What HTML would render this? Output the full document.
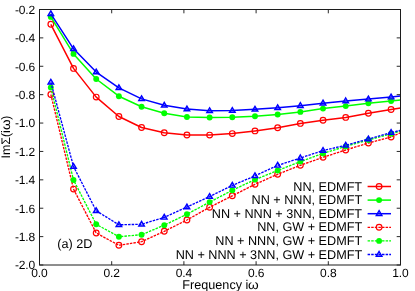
<!DOCTYPE html>
<html><head><meta charset="utf-8"><title>chart</title>
<style>
html,body{margin:0;padding:0;background:#fff;}
body{width:415px;height:291px;position:relative;overflow:hidden;font-family:"Liberation Sans",sans-serif;color:#000;}
.t{position:absolute;text-rendering:geometricPrecision;white-space:nowrap;font-family:"Liberation Sans",sans-serif;color:#000;}
#txt{position:absolute;left:0;top:0;width:415px;height:291px;will-change:transform;}
</style></head><body>
<svg width="415" height="291" viewBox="0 0 415 291" style="position:absolute;left:0;top:0">
<rect x="0" y="0" width="415" height="291" fill="#ffffff"/>
<path d="M39.5 9.50 h3.8 M400.5 9.50 h-3.8" stroke="#111" stroke-width="0.9"/>
<path d="M39.5 37.89 h3.8 M400.5 37.89 h-3.8" stroke="#111" stroke-width="0.9"/>
<path d="M39.5 66.28 h3.8 M400.5 66.28 h-3.8" stroke="#111" stroke-width="0.9"/>
<path d="M39.5 94.67 h3.8 M400.5 94.67 h-3.8" stroke="#111" stroke-width="0.9"/>
<path d="M39.5 123.06 h3.8 M400.5 123.06 h-3.8" stroke="#111" stroke-width="0.9"/>
<path d="M39.5 151.44 h3.8 M400.5 151.44 h-3.8" stroke="#111" stroke-width="0.9"/>
<path d="M39.5 179.83 h3.8 M400.5 179.83 h-3.8" stroke="#111" stroke-width="0.9"/>
<path d="M39.5 208.22 h3.8 M400.5 208.22 h-3.8" stroke="#111" stroke-width="0.9"/>
<path d="M39.5 236.61 h3.8 M400.5 236.61 h-3.8" stroke="#111" stroke-width="0.9"/>
<path d="M39.5 265.00 h3.8 M400.5 265.00 h-3.8" stroke="#111" stroke-width="0.9"/>
<path d="M39.50 265.0 v-3.8 M39.50 9.5 v3.8" stroke="#111" stroke-width="0.9"/>
<path d="M111.70 265.0 v-3.8 M111.70 9.5 v3.8" stroke="#111" stroke-width="0.9"/>
<path d="M183.90 265.0 v-3.8 M183.90 9.5 v3.8" stroke="#111" stroke-width="0.9"/>
<path d="M256.10 265.0 v-3.8 M256.10 9.5 v3.8" stroke="#111" stroke-width="0.9"/>
<path d="M328.30 265.0 v-3.8 M328.30 9.5 v3.8" stroke="#111" stroke-width="0.9"/>
<path d="M400.50 265.0 v-3.8 M400.50 9.5 v3.8" stroke="#111" stroke-width="0.9"/>
<path d="M50.84 24.30 L73.52 68.40 L96.21 97.10 L118.89 116.50 L141.57 127.50 L164.25 132.80 L186.93 135.00 L209.62 135.10 L232.30 133.60 L254.98 130.90 L277.66 127.70 L300.35 123.40 L323.03 120.30 L345.71 117.40 L368.39 113.30 L391.08 109.50 L400.50 108.00" fill="none" stroke="#ff0000" stroke-width="1.5" stroke-linejoin="round"/>
<circle cx="50.84" cy="24.30" r="2.85" fill="none" stroke="#ff0000" stroke-width="1.2"/>
<circle cx="73.52" cy="68.40" r="2.85" fill="none" stroke="#ff0000" stroke-width="1.2"/>
<circle cx="96.21" cy="97.10" r="2.85" fill="none" stroke="#ff0000" stroke-width="1.2"/>
<circle cx="118.89" cy="116.50" r="2.85" fill="none" stroke="#ff0000" stroke-width="1.2"/>
<circle cx="141.57" cy="127.50" r="2.85" fill="none" stroke="#ff0000" stroke-width="1.2"/>
<circle cx="164.25" cy="132.80" r="2.85" fill="none" stroke="#ff0000" stroke-width="1.2"/>
<circle cx="186.93" cy="135.00" r="2.85" fill="none" stroke="#ff0000" stroke-width="1.2"/>
<circle cx="209.62" cy="135.10" r="2.85" fill="none" stroke="#ff0000" stroke-width="1.2"/>
<circle cx="232.30" cy="133.60" r="2.85" fill="none" stroke="#ff0000" stroke-width="1.2"/>
<circle cx="254.98" cy="130.90" r="2.85" fill="none" stroke="#ff0000" stroke-width="1.2"/>
<circle cx="277.66" cy="127.70" r="2.85" fill="none" stroke="#ff0000" stroke-width="1.2"/>
<circle cx="300.35" cy="123.40" r="2.85" fill="none" stroke="#ff0000" stroke-width="1.2"/>
<circle cx="323.03" cy="120.30" r="2.85" fill="none" stroke="#ff0000" stroke-width="1.2"/>
<circle cx="345.71" cy="117.40" r="2.85" fill="none" stroke="#ff0000" stroke-width="1.2"/>
<circle cx="368.39" cy="113.30" r="2.85" fill="none" stroke="#ff0000" stroke-width="1.2"/>
<circle cx="391.08" cy="109.50" r="2.85" fill="none" stroke="#ff0000" stroke-width="1.2"/>
<path d="M50.84 16.90 L73.52 53.90 L96.21 79.00 L118.89 96.20 L141.57 106.80 L164.25 113.20 L186.93 117.00 L209.62 117.50 L232.30 117.25 L254.98 116.30 L277.66 114.50 L300.35 111.90 L323.03 108.60 L345.71 106.10 L368.39 103.25 L391.08 101.00 L400.50 100.00" fill="none" stroke="#00ff00" stroke-width="1.5" stroke-linejoin="round"/>
<circle cx="50.84" cy="16.90" r="2.95" fill="#00ff00"/>
<circle cx="73.52" cy="53.90" r="2.95" fill="#00ff00"/>
<circle cx="96.21" cy="79.00" r="2.95" fill="#00ff00"/>
<circle cx="118.89" cy="96.20" r="2.95" fill="#00ff00"/>
<circle cx="141.57" cy="106.80" r="2.95" fill="#00ff00"/>
<circle cx="164.25" cy="113.20" r="2.95" fill="#00ff00"/>
<circle cx="186.93" cy="117.00" r="2.95" fill="#00ff00"/>
<circle cx="209.62" cy="117.50" r="2.95" fill="#00ff00"/>
<circle cx="232.30" cy="117.25" r="2.95" fill="#00ff00"/>
<circle cx="254.98" cy="116.30" r="2.95" fill="#00ff00"/>
<circle cx="277.66" cy="114.50" r="2.95" fill="#00ff00"/>
<circle cx="300.35" cy="111.90" r="2.95" fill="#00ff00"/>
<circle cx="323.03" cy="108.60" r="2.95" fill="#00ff00"/>
<circle cx="345.71" cy="106.10" r="2.95" fill="#00ff00"/>
<circle cx="368.39" cy="103.25" r="2.95" fill="#00ff00"/>
<circle cx="391.08" cy="101.00" r="2.95" fill="#00ff00"/>
<path d="M50.84 13.90 L73.52 48.80 L96.21 72.05 L118.89 87.80 L141.57 98.90 L164.25 105.30 L186.93 109.05 L209.62 110.80 L232.30 110.55 L254.98 109.30 L277.66 107.80 L300.35 105.70 L323.03 103.20 L345.71 101.00 L368.39 99.10 L391.08 97.10 L400.50 95.90" fill="none" stroke="#0000ff" stroke-width="1.5" stroke-linejoin="round"/>
<path d="M50.84 10.90 L53.64 15.65 L48.04 15.65 Z" fill="#0000ff" fill-opacity="0.18" stroke="#0000ff" stroke-width="1.4" stroke-linejoin="miter"/>
<path d="M73.52 45.80 L76.32 50.55 L70.72 50.55 Z" fill="#0000ff" fill-opacity="0.18" stroke="#0000ff" stroke-width="1.4" stroke-linejoin="miter"/>
<path d="M96.21 69.05 L99.01 73.80 L93.41 73.80 Z" fill="#0000ff" fill-opacity="0.18" stroke="#0000ff" stroke-width="1.4" stroke-linejoin="miter"/>
<path d="M118.89 84.80 L121.69 89.55 L116.09 89.55 Z" fill="#0000ff" fill-opacity="0.18" stroke="#0000ff" stroke-width="1.4" stroke-linejoin="miter"/>
<path d="M141.57 95.90 L144.37 100.65 L138.77 100.65 Z" fill="#0000ff" fill-opacity="0.18" stroke="#0000ff" stroke-width="1.4" stroke-linejoin="miter"/>
<path d="M164.25 102.30 L167.05 107.05 L161.45 107.05 Z" fill="#0000ff" fill-opacity="0.18" stroke="#0000ff" stroke-width="1.4" stroke-linejoin="miter"/>
<path d="M186.93 106.05 L189.73 110.80 L184.13 110.80 Z" fill="#0000ff" fill-opacity="0.18" stroke="#0000ff" stroke-width="1.4" stroke-linejoin="miter"/>
<path d="M209.62 107.80 L212.42 112.55 L206.82 112.55 Z" fill="#0000ff" fill-opacity="0.18" stroke="#0000ff" stroke-width="1.4" stroke-linejoin="miter"/>
<path d="M232.30 107.55 L235.10 112.30 L229.50 112.30 Z" fill="#0000ff" fill-opacity="0.18" stroke="#0000ff" stroke-width="1.4" stroke-linejoin="miter"/>
<path d="M254.98 106.30 L257.78 111.05 L252.18 111.05 Z" fill="#0000ff" fill-opacity="0.18" stroke="#0000ff" stroke-width="1.4" stroke-linejoin="miter"/>
<path d="M277.66 104.80 L280.46 109.55 L274.86 109.55 Z" fill="#0000ff" fill-opacity="0.18" stroke="#0000ff" stroke-width="1.4" stroke-linejoin="miter"/>
<path d="M300.35 102.70 L303.15 107.45 L297.55 107.45 Z" fill="#0000ff" fill-opacity="0.18" stroke="#0000ff" stroke-width="1.4" stroke-linejoin="miter"/>
<path d="M323.03 100.20 L325.83 104.95 L320.23 104.95 Z" fill="#0000ff" fill-opacity="0.18" stroke="#0000ff" stroke-width="1.4" stroke-linejoin="miter"/>
<path d="M345.71 98.00 L348.51 102.75 L342.91 102.75 Z" fill="#0000ff" fill-opacity="0.18" stroke="#0000ff" stroke-width="1.4" stroke-linejoin="miter"/>
<path d="M368.39 96.10 L371.19 100.85 L365.59 100.85 Z" fill="#0000ff" fill-opacity="0.18" stroke="#0000ff" stroke-width="1.4" stroke-linejoin="miter"/>
<path d="M391.08 94.10 L393.88 98.85 L388.28 98.85 Z" fill="#0000ff" fill-opacity="0.18" stroke="#0000ff" stroke-width="1.4" stroke-linejoin="miter"/>
<path d="M50.84 94.50 L73.52 189.10 L96.21 233.00 L118.89 245.30 L141.57 241.70 L164.25 231.30 L186.93 220.00 L209.62 207.30 L232.30 195.80 L254.98 184.30 L277.66 174.30 L300.35 165.30 L323.03 157.30 L345.71 150.00 L368.39 143.00 L391.08 137.00 L400.50 132.70" fill="none" stroke="#ff0000" stroke-width="1.35" stroke-dasharray="2.5,1.1" stroke-linejoin="round"/>
<circle cx="50.84" cy="94.50" r="2.85" fill="none" stroke="#ff0000" stroke-width="1.2"/>
<circle cx="73.52" cy="189.10" r="2.85" fill="none" stroke="#ff0000" stroke-width="1.2"/>
<circle cx="96.21" cy="233.00" r="2.85" fill="none" stroke="#ff0000" stroke-width="1.2"/>
<circle cx="118.89" cy="245.30" r="2.85" fill="none" stroke="#ff0000" stroke-width="1.2"/>
<circle cx="141.57" cy="241.70" r="2.85" fill="none" stroke="#ff0000" stroke-width="1.2"/>
<circle cx="164.25" cy="231.30" r="2.85" fill="none" stroke="#ff0000" stroke-width="1.2"/>
<circle cx="186.93" cy="220.00" r="2.85" fill="none" stroke="#ff0000" stroke-width="1.2"/>
<circle cx="209.62" cy="207.30" r="2.85" fill="none" stroke="#ff0000" stroke-width="1.2"/>
<circle cx="232.30" cy="195.80" r="2.85" fill="none" stroke="#ff0000" stroke-width="1.2"/>
<circle cx="254.98" cy="184.30" r="2.85" fill="none" stroke="#ff0000" stroke-width="1.2"/>
<circle cx="277.66" cy="174.30" r="2.85" fill="none" stroke="#ff0000" stroke-width="1.2"/>
<circle cx="300.35" cy="165.30" r="2.85" fill="none" stroke="#ff0000" stroke-width="1.2"/>
<circle cx="323.03" cy="157.30" r="2.85" fill="none" stroke="#ff0000" stroke-width="1.2"/>
<circle cx="345.71" cy="150.00" r="2.85" fill="none" stroke="#ff0000" stroke-width="1.2"/>
<circle cx="368.39" cy="143.00" r="2.85" fill="none" stroke="#ff0000" stroke-width="1.2"/>
<circle cx="391.08" cy="137.00" r="2.85" fill="none" stroke="#ff0000" stroke-width="1.2"/>
<path d="M50.84 87.50 L73.52 180.00 L96.21 224.30 L118.89 236.70 L141.57 234.70 L164.25 225.20 L186.93 214.20 L209.62 202.10 L232.30 190.30 L254.98 179.60 L277.66 170.50 L300.35 161.60 L323.03 153.40 L345.71 146.40 L368.39 140.00 L391.08 133.75 L400.50 131.00" fill="none" stroke="#00ff00" stroke-width="1.35" stroke-dasharray="2.5,1.1" stroke-linejoin="round"/>
<circle cx="50.84" cy="87.50" r="2.95" fill="#00ff00"/>
<circle cx="73.52" cy="180.00" r="2.95" fill="#00ff00"/>
<circle cx="96.21" cy="224.30" r="2.95" fill="#00ff00"/>
<circle cx="118.89" cy="236.70" r="2.95" fill="#00ff00"/>
<circle cx="141.57" cy="234.70" r="2.95" fill="#00ff00"/>
<circle cx="164.25" cy="225.20" r="2.95" fill="#00ff00"/>
<circle cx="186.93" cy="214.20" r="2.95" fill="#00ff00"/>
<circle cx="209.62" cy="202.10" r="2.95" fill="#00ff00"/>
<circle cx="232.30" cy="190.30" r="2.95" fill="#00ff00"/>
<circle cx="254.98" cy="179.60" r="2.95" fill="#00ff00"/>
<circle cx="277.66" cy="170.50" r="2.95" fill="#00ff00"/>
<circle cx="300.35" cy="161.60" r="2.95" fill="#00ff00"/>
<circle cx="323.03" cy="153.40" r="2.95" fill="#00ff00"/>
<circle cx="345.71" cy="146.40" r="2.95" fill="#00ff00"/>
<circle cx="368.39" cy="140.00" r="2.95" fill="#00ff00"/>
<circle cx="391.08" cy="133.75" r="2.95" fill="#00ff00"/>
<path d="M50.84 82.30 L73.52 166.55 L96.21 210.80 L118.89 224.80 L141.57 224.30 L164.25 217.40 L186.93 207.05 L209.62 196.55 L232.30 185.40 L254.98 175.90 L277.66 165.40 L300.35 158.00 L323.03 150.55 L345.71 145.30 L368.39 139.05 L391.08 132.55 L400.50 130.30" fill="none" stroke="#0000ff" stroke-width="1.35" stroke-dasharray="2.5,1.1" stroke-linejoin="round"/>
<path d="M50.84 79.30 L53.64 84.05 L48.04 84.05 Z" fill="#0000ff" fill-opacity="0.18" stroke="#0000ff" stroke-width="1.4" stroke-linejoin="miter"/>
<path d="M73.52 163.55 L76.32 168.30 L70.72 168.30 Z" fill="#0000ff" fill-opacity="0.18" stroke="#0000ff" stroke-width="1.4" stroke-linejoin="miter"/>
<path d="M96.21 207.80 L99.01 212.55 L93.41 212.55 Z" fill="#0000ff" fill-opacity="0.18" stroke="#0000ff" stroke-width="1.4" stroke-linejoin="miter"/>
<path d="M118.89 221.80 L121.69 226.55 L116.09 226.55 Z" fill="#0000ff" fill-opacity="0.18" stroke="#0000ff" stroke-width="1.4" stroke-linejoin="miter"/>
<path d="M141.57 221.30 L144.37 226.05 L138.77 226.05 Z" fill="#0000ff" fill-opacity="0.18" stroke="#0000ff" stroke-width="1.4" stroke-linejoin="miter"/>
<path d="M164.25 214.40 L167.05 219.15 L161.45 219.15 Z" fill="#0000ff" fill-opacity="0.18" stroke="#0000ff" stroke-width="1.4" stroke-linejoin="miter"/>
<path d="M186.93 204.05 L189.73 208.80 L184.13 208.80 Z" fill="#0000ff" fill-opacity="0.18" stroke="#0000ff" stroke-width="1.4" stroke-linejoin="miter"/>
<path d="M209.62 193.55 L212.42 198.30 L206.82 198.30 Z" fill="#0000ff" fill-opacity="0.18" stroke="#0000ff" stroke-width="1.4" stroke-linejoin="miter"/>
<path d="M232.30 182.40 L235.10 187.15 L229.50 187.15 Z" fill="#0000ff" fill-opacity="0.18" stroke="#0000ff" stroke-width="1.4" stroke-linejoin="miter"/>
<path d="M254.98 172.90 L257.78 177.65 L252.18 177.65 Z" fill="#0000ff" fill-opacity="0.18" stroke="#0000ff" stroke-width="1.4" stroke-linejoin="miter"/>
<path d="M277.66 162.40 L280.46 167.15 L274.86 167.15 Z" fill="#0000ff" fill-opacity="0.18" stroke="#0000ff" stroke-width="1.4" stroke-linejoin="miter"/>
<path d="M300.35 155.00 L303.15 159.75 L297.55 159.75 Z" fill="#0000ff" fill-opacity="0.18" stroke="#0000ff" stroke-width="1.4" stroke-linejoin="miter"/>
<path d="M323.03 147.55 L325.83 152.30 L320.23 152.30 Z" fill="#0000ff" fill-opacity="0.18" stroke="#0000ff" stroke-width="1.4" stroke-linejoin="miter"/>
<path d="M345.71 142.30 L348.51 147.05 L342.91 147.05 Z" fill="#0000ff" fill-opacity="0.18" stroke="#0000ff" stroke-width="1.4" stroke-linejoin="miter"/>
<path d="M368.39 136.05 L371.19 140.80 L365.59 140.80 Z" fill="#0000ff" fill-opacity="0.18" stroke="#0000ff" stroke-width="1.4" stroke-linejoin="miter"/>
<path d="M391.08 129.55 L393.88 134.30 L388.28 134.30 Z" fill="#0000ff" fill-opacity="0.18" stroke="#0000ff" stroke-width="1.4" stroke-linejoin="miter"/>
<rect x="39.5" y="9.5" width="361.0" height="255.5" fill="none" stroke="#1c1c1c" stroke-width="1"/>
<path d="M367.6 186.5 H391.0" stroke="#ff0000" stroke-width="1.5"/>
<circle cx="379.10" cy="186.50" r="2.85" fill="none" stroke="#ff0000" stroke-width="1.2"/>
<path d="M367.6 200.1 H391.0" stroke="#00ff00" stroke-width="1.5"/>
<circle cx="379.10" cy="200.10" r="2.95" fill="#00ff00"/>
<path d="M367.6 213.7 H391.0" stroke="#0000ff" stroke-width="1.5"/>
<path d="M379.10 210.70 L381.90 215.45 L376.30 215.45 Z" fill="#0000ff" fill-opacity="0.18" stroke="#0000ff" stroke-width="1.4" stroke-linejoin="miter"/>
<path d="M367.6 227.3 H391.0" stroke="#ff0000" stroke-width="1.35" stroke-dasharray="2.5,1.1"/>
<circle cx="379.10" cy="227.30" r="2.85" fill="none" stroke="#ff0000" stroke-width="1.2"/>
<path d="M367.6 240.9 H391.0" stroke="#00ff00" stroke-width="1.35" stroke-dasharray="2.5,1.1"/>
<circle cx="379.10" cy="240.90" r="2.95" fill="#00ff00"/>
<path d="M367.6 254.5 H391.0" stroke="#0000ff" stroke-width="1.35" stroke-dasharray="2.5,1.1"/>
<path d="M379.10 251.50 L381.90 256.25 L376.30 256.25 Z" fill="#0000ff" fill-opacity="0.18" stroke="#0000ff" stroke-width="1.4" stroke-linejoin="miter"/>
</svg>
<div id="txt"><div class="t" style="top:178.57px;font-size:12.65px;line-height:16px;height:16px;right:52.90px;">NN, EDMFT</div>
<div class="t" style="top:192.17px;font-size:12.65px;line-height:16px;height:16px;right:52.90px;">NN + NNN, EDMFT</div>
<div class="t" style="top:205.77px;font-size:12.65px;line-height:16px;height:16px;right:52.90px;">NN + NNN + 3NN, EDMFT</div>
<div class="t" style="top:219.37px;font-size:12.65px;line-height:16px;height:16px;right:52.90px;">NN, GW + EDMFT</div>
<div class="t" style="top:232.97px;font-size:12.65px;line-height:16px;height:16px;right:52.90px;">NN + NNN, GW + EDMFT</div>
<div class="t" style="top:246.57px;font-size:12.65px;line-height:16px;height:16px;right:52.90px;">NN + NNN + 3NN, GW + EDMFT</div>
<div class="t" style="top:1.84px;font-size:12px;line-height:16px;height:16px;right:380.00px;letter-spacing:-0.15px;">-0.2</div>
<div class="t" style="top:30.23px;font-size:12px;line-height:16px;height:16px;right:380.00px;letter-spacing:-0.15px;">-0.4</div>
<div class="t" style="top:58.62px;font-size:12px;line-height:16px;height:16px;right:380.00px;letter-spacing:-0.15px;">-0.6</div>
<div class="t" style="top:87.01px;font-size:12px;line-height:16px;height:16px;right:380.00px;letter-spacing:-0.15px;">-0.8</div>
<div class="t" style="top:115.40px;font-size:12px;line-height:16px;height:16px;right:380.00px;letter-spacing:-0.15px;">-1.0</div>
<div class="t" style="top:143.79px;font-size:12px;line-height:16px;height:16px;right:380.00px;letter-spacing:-0.15px;">-1.2</div>
<div class="t" style="top:172.18px;font-size:12px;line-height:16px;height:16px;right:380.00px;letter-spacing:-0.15px;">-1.4</div>
<div class="t" style="top:200.56px;font-size:12px;line-height:16px;height:16px;right:380.00px;letter-spacing:-0.15px;">-1.6</div>
<div class="t" style="top:228.95px;font-size:12px;line-height:16px;height:16px;right:380.00px;letter-spacing:-0.15px;">-1.8</div>
<div class="t" style="top:257.34px;font-size:12px;line-height:16px;height:16px;right:380.00px;letter-spacing:-0.15px;">-2.0</div>
<div class="t" style="top:264.84px;font-size:12px;line-height:16px;height:16px;left:-60.50px;width:200px;text-align:center;letter-spacing:-0.1px;">0.0</div>
<div class="t" style="top:264.84px;font-size:12px;line-height:16px;height:16px;left:11.70px;width:200px;text-align:center;letter-spacing:-0.1px;">0.2</div>
<div class="t" style="top:264.84px;font-size:12px;line-height:16px;height:16px;left:83.90px;width:200px;text-align:center;letter-spacing:-0.1px;">0.4</div>
<div class="t" style="top:264.84px;font-size:12px;line-height:16px;height:16px;left:156.10px;width:200px;text-align:center;letter-spacing:-0.1px;">0.6</div>
<div class="t" style="top:264.84px;font-size:12px;line-height:16px;height:16px;left:228.30px;width:200px;text-align:center;letter-spacing:-0.1px;">0.8</div>
<div class="t" style="top:264.84px;font-size:12px;line-height:16px;height:16px;left:300.50px;width:200px;text-align:center;letter-spacing:-0.1px;">1.0</div>
<div class="t" style="top:276.52px;font-size:12.65px;line-height:16px;height:16px;left:182.30px;">Frequency i<span style="display:inline-block;transform:scaleX(1.08);transform-origin:0 50%">&omega;</span></div>
<div class="t" style="top:236.32px;font-size:12.65px;line-height:16px;height:16px;left:57.30px;">(a) 2D</div>
<div class="t" style="left:-94.3px;top:129.10px;width:200px;text-align:center;font-size:12.4px;line-height:16px;height:16px;transform:rotate(-90deg);transform-origin:50% 50%">Im&Sigma;(i<span style="display:inline-block;transform:scaleX(1.1);transform-origin:0 50%;margin-right:0.8px">&omega;</span>)</div></div>
</body></html>
